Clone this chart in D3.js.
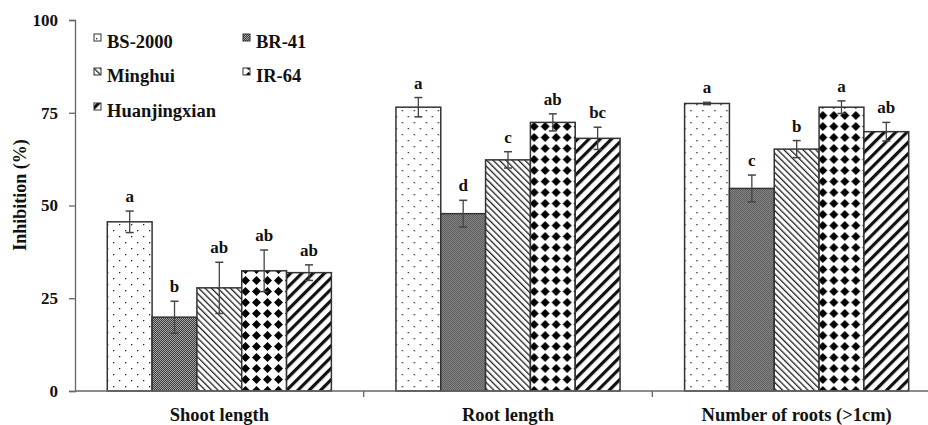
<!DOCTYPE html>
<html lang="en">
<head>
<meta charset="utf-8">
<script src="https://d3js.org/d3.v7.min.js"></script>
<style>
  body { margin: 0; background: #fff; }
  svg text { font-family: "Liberation Serif", "Times New Roman", serif; font-weight: bold; fill: #111; }
  .axis path, .axis line { stroke: #666; stroke-width: 1.3; }
</style>
</head>
<body>
<script>
  // traits on the x axis and cultivars (series)
  let groups = ['Shoot length', 'Root length', 'Number of roots (>1cm)'];
  let cultivars = ['BS-2000', 'BR-41', 'Minghui', 'IR-64', 'Huanjingxian'];

  // inhibition (%) per cultivar, in the order of groups
  let bs2000 = [45.6, 76.5, 77.5];
  let br41 = [19.9, 47.8, 54.6];
  let minghui = [27.8, 62.3, 65.2];
  let ir64 = [32.4, 72.4, 76.5];
  let huanjing = [31.9, 68.1, 69.9];

  // error bars
  let bs2000Err = [2.9, 2.6, 0.3];
  let br41Err = [4.3, 3.6, 3.6];
  let minghuiErr = [6.9, 2.2, 2.3];
  let ir64Err = [5.6, 2.3, 1.7];
  let huanjingErr = [2.1, 3.0, 2.5];

  // significance letters
  let bs2000Lab = ['a', 'a', 'a'];
  let br41Lab = ['b', 'd', 'c'];
  let minghuiLab = ['ab', 'c', 'b'];
  let ir64Lab = ['ab', 'ab', 'a'];
  let huanjingLab = ['ab', 'bc', 'ab'];

  let yTicks = [0, 25, 50, 75, 100];

  let values = [bs2000, br41, minghui, ir64, huanjing];
  let errs = [bs2000Err, br41Err, minghuiErr, ir64Err, huanjingErr];
  let labs = [bs2000Lab, br41Lab, minghuiLab, ir64Lab, huanjingLab];

  let rows = [];
  groups.forEach(function(g, gi) {
    cultivars.forEach(function(c, ci) {
      rows.push({ group: g, cultivar: c, value: values[ci][gi], err: errs[ci][gi], lab: labs[ci][gi], ci: ci });
    });
  });

  var width = 928, height = 425;
  var svg = d3.select('body').append('svg')
    .attr('width', width)
    .attr('height', height);

  // fill patterns
  var defs = svg.append('defs');

  var p0 = defs.append('pattern').attr('id', 'pat0').attr('patternUnits', 'userSpaceOnUse')
    .attr('width', 12).attr('height', 12);
  p0.append('rect').attr('width', 12).attr('height', 12).attr('fill', '#fff');
  p0.append('rect').attr('x', 2).attr('y', 2).attr('width', 1.3).attr('height', 1.3).attr('fill', '#222');
  p0.append('rect').attr('x', 8).attr('y', 8).attr('width', 1.3).attr('height', 1.3).attr('fill', '#222');

  var p1 = defs.append('pattern').attr('id', 'pat1').attr('patternUnits', 'userSpaceOnUse')
    .attr('width', 2).attr('height', 2);
  p1.append('rect').attr('width', 2).attr('height', 2).attr('fill', '#a8a8a8');
  p1.append('rect').attr('width', 1).attr('height', 1).attr('fill', '#3a3a3a');
  p1.append('rect').attr('x', 1).attr('y', 1).attr('width', 1).attr('height', 1).attr('fill', '#3a3a3a');

  var p2 = defs.append('pattern').attr('id', 'pat2').attr('patternUnits', 'userSpaceOnUse')
    .attr('width', 4.5).attr('height', 4.5).attr('patternTransform', 'rotate(-45)');
  p2.append('rect').attr('width', 4.5).attr('height', 4.5).attr('fill', '#fff');
  p2.append('rect').attr('width', 1.3).attr('height', 4.5).attr('fill', '#222');

  var p3 = defs.append('pattern').attr('id', 'pat3').attr('patternUnits', 'userSpaceOnUse')
    .attr('width', 11).attr('height', 11);
  p3.append('rect').attr('width', 11).attr('height', 11).attr('fill', '#fff');
  p3.append('path').attr('d', 'M5.5,1 L10,5.5 L5.5,10 L1,5.5 Z').attr('fill', '#000');

  var p4 = defs.append('pattern').attr('id', 'pat4').attr('patternUnits', 'userSpaceOnUse')
    .attr('width', 8).attr('height', 8).attr('patternTransform', 'rotate(45)');
  p4.append('rect').attr('width', 8).attr('height', 8).attr('fill', '#fff');
  p4.append('rect').attr('width', 3.2).attr('height', 8).attr('fill', '#111');

  var x0 = d3.scaleBand().domain(groups).range([75, 941]).padding(0);
  var x1 = d3.scaleBand().domain(cultivars).range([0, x0.bandwidth()]).paddingInner(0).paddingOuter(0.72);
  var y = d3.scaleLinear().domain([0, 100]).range([391, 20]);

  // y axis
  svg.append('g')
    .attr('class', 'axis')
    .attr('transform', 'translate(75,0)')
    .call(d3.axisLeft(y).tickValues(yTicks).tickSize(6).tickPadding(11))
    .call(function(g) { g.selectAll('text').style('font-size', '17px'); });

  svg.append('text')
    .attr('transform', 'translate(26,195) rotate(-90)')
    .attr('text-anchor', 'middle')
    .style('font-size', '18px')
    .text('Inhibition (%)');

  // bars
  var bar = svg.selectAll('g.bar')
    .data(rows)
    .enter()
    .append('g')
    .attr('class', 'bar')
    .attr('transform', function(d) { return 'translate(' + x0(d.group) + ',0)'; });

  bar.append('rect')
    .attr('x', function(d) { return x1(d.cultivar); })
    .attr('y', function(d) { return y(d.value); })
    .attr('width', x1.bandwidth())
    .attr('height', function(d) { return y(0) - y(d.value); })
    .attr('fill', function(d) { return 'url(#pat' + d.ci + ')'; })
    .attr('stroke', '#333')
    .attr('stroke-width', 1.5);

  // error bars
  var cx = function(d) { return x1(d.cultivar) + x1.bandwidth() / 2; };
  bar.append('line')
    .attr('x1', cx).attr('x2', cx)
    .attr('y1', function(d) { return y(d.value + d.err); })
    .attr('y2', function(d) { return y(d.value - d.err); })
    .attr('stroke', '#444').attr('stroke-width', 1.3);
  [1, -1].forEach(function(s) {
    bar.append('line')
      .attr('x1', function(d) { return cx(d) - 4; })
      .attr('x2', function(d) { return cx(d) + 4; })
      .attr('y1', function(d) { return y(d.value + s * d.err); })
      .attr('y2', function(d) { return y(d.value + s * d.err); })
      .attr('stroke', '#444').attr('stroke-width', 1.5);
  });

  bar.append('text')
    .attr('x', cx)
    .attr('y', function(d) { return y(d.value + d.err) - 9; })
    .attr('text-anchor', 'middle')
    .style('font-size', '17px')
    .text(function(d) { return d.lab; });

  // x axis
  var xa = svg.append('g').attr('class', 'axis');
  xa.append('line').attr('x1', 75).attr('x2', 941).attr('y1', y(0)).attr('y2', y(0));
  xa.selectAll('line.tk')
    .data(groups.slice(1))
    .enter()
    .append('line')
    .attr('class', 'tk')
    .attr('x1', function(d) { return x0(d); })
    .attr('x2', function(d) { return x0(d); })
    .attr('y1', y(0)).attr('y2', y(0) + 6);
  xa.selectAll('text')
    .data(groups)
    .enter()
    .append('text')
    .attr('x', function(d) { return x0(d) + x0.bandwidth() / 2; })
    .attr('y', 421)
    .attr('text-anchor', 'middle')
    .style('font-size', '18.5px')
    .text(function(d) { return d; });

  // legend
  var legPos = [[94, 48], [243, 48], [94, 82], [243, 82], [94, 117]];
  var leg = svg.selectAll('g.leg')
    .data(cultivars)
    .enter()
    .append('g')
    .attr('class', 'leg')
    .attr('transform', function(d, i) { return 'translate(' + legPos[i][0] + ',' + legPos[i][1] + ')'; });
  leg.append('rect')
    .attr('width', 7).attr('height', 7)
    .attr('y', -14)
    .attr('fill', function(d, i) { return 'url(#pat' + i + ')'; })
    .attr('stroke', '#333').attr('stroke-width', 1);
  leg.append('text')
    .attr('x', 13)
    .attr('y', 0)
    .style('font-size', '18.5px')
    .text(function(d) { return d; });
</script>
</body>
</html>
